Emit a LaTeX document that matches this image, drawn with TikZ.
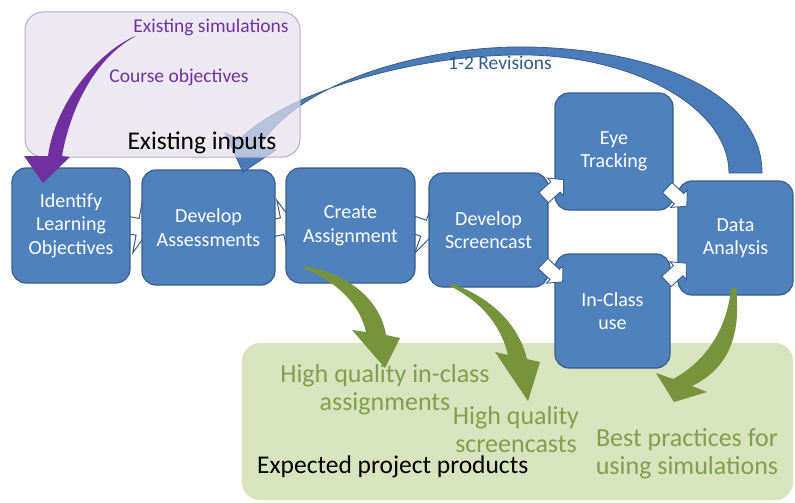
\documentclass[tikz,border=0pt]{standalone}
\usepackage{fontspec}
\setmainfont{Carlito}
\usetikzlibrary{shapes.arrows,calc}
\definecolor{boxfill}{HTML}{4F81BD}
\definecolor{boxedge}{HTML}{385D8A}
\definecolor{arcfill}{HTML}{4A7CB9}
\definecolor{greenbg}{HTML}{D7E4BD}
\definecolor{greenar}{HTML}{77933C}
\definecolor{greentx}{HTML}{839E4C}
\definecolor{purp}{HTML}{7030A0}
\definecolor{purpbg}{HTML}{E6E0EC}
\definecolor{purpedge}{HTML}{B8AACB}
\definecolor{revtx}{HTML}{2E5C8A}
\pgfdeclarelayer{behind}
\pgfsetlayers{behind,main}
\tikzset{
  procbox/.style={draw=boxedge, line width=1.2pt, fill=boxfill, rounded corners=14pt,
    text=white, align=center, font=\fontsize{20}{23.5}\selectfont, inner sep=0pt},
  blockarrow/.style={single arrow, draw=boxedge, fill=white, line width=1pt,
    inner xsep=0pt, inner ysep=8pt, single arrow head extend=18pt,
    single arrow tip angle=130, minimum height=24pt},
  diagarrow/.style={single arrow, draw=boxedge, fill=white, line width=0.9pt,
    inner xsep=0pt, inner ysep=6.5pt, single arrow head extend=5pt,
    single arrow tip angle=95, minimum height=27pt},
  greentext/.style={text=greentx, align=center, font=\fontsize{26}{27.5}\selectfont, inner sep=0pt},
  purptext/.style={text=purp, font=\fontsize{19.5}{23}\selectfont, inner sep=0pt},
  blacktext/.style={text=black, font=\fontsize{25.5}{30}\selectfont, inner sep=0pt},
  revtext/.style={text=revtx, font=\fontsize{19.5}{23}\selectfont, inner sep=0pt}
}
\begin{document}
\begin{tikzpicture}[x=1pt,y=-1pt]
\useasboundingbox (0,0) rectangle (795,503);

% process boxes
\node[procbox, minimum width=118pt, minimum height=115pt] (b1) at (71,225.5) {Identify\\Learning\\Objectives};
\node[procbox, minimum width=133pt, minimum height=115pt] (b2) at (208.5,227.5) {Develop\\Assessments};
\node[procbox, minimum width=129pt, minimum height=115pt] (b3) at (350.5,225.5) {Create\\Assignment};
\node[procbox, minimum width=119pt, minimum height=114pt] (b4) at (488.5,230) {Develop\\Screencast};
\node[procbox, minimum width=118pt, minimum height=117pt] (b5) at (614,151.5) {Eye\\Tracking};
\node[procbox, minimum width=115pt, minimum height=114pt] (b6) at (612.5,311) {In-Class\\use};
\node[procbox, minimum width=115pt, minimum height=114pt] (b7) at (735.5,238) {Data\\Analysis};

\begin{pgfonlayer}{behind}
  \fill[greenbg, rounded corners=18pt] (242,343) rectangle (793,500);
  \path (b1.east) -- node[blockarrow, sloped] (a12) {} (b2.west);
  \path (b2.east) -- node[blockarrow, sloped] (a23) {} (b3.west);
  \path (b3.east) -- node[blockarrow, sloped] (a34) {} (b4.west);
\end{pgfonlayer}
\path (b4.center) -- node[diagarrow, sloped, rotate=10] (a45) {} (b5.center);
\path (b4.center) -- node[diagarrow, sloped, rotate=-10] (a46) {} (b6.center);
\path (b5.center) -- node[diagarrow, sloped, rotate=-8] (a57) {} (b7.center);
\path (b6.center) -- node[diagarrow, sloped, rotate=12] (a67) {} (b7.center);

% green curved arrows
\fill[greenar] (303,266) .. controls (345,272) and (380,298) .. (386,335) -- (400,338) -- (385,368) -- (352,330) -- (366,332) .. controls (360,305) and (338,282) .. (303,268) -- cycle;
\fill[greenar] (450,283) .. controls (488,296) and (518,322) .. (527,359) -- (540,362) -- (528,401) -- (495,352) -- (508,355) .. controls (500,322) and (478,300) .. (450,286) -- cycle;
\fill[greenar] (736,288) .. controls (742,340) and (725,370) .. (692,386) -- (707,392) -- (674,402) -- (656,373) -- (673,379) .. controls (705,362) and (727,330) .. (731,288) -- cycle;

% green texts
\node[greentext] (g1) at (385,389.5) {High quality in-class\\assignments};
\node[greentext] (g2) at (516,429.5) {High quality\\screencasts};
\node[greentext] (g3) at (687,453.5) {Best practices for\\using simulations};
\node[blacktext, anchor=west] (g4) at (257,467) {Expected project products};

% revisions arc
\draw[boxedge, fill=arcfill, line width=0.8pt] (260,146) .. controls (300,80) and (430,45) .. (530,47) .. controls (660,50) and (762,95) .. (762,173) -- (729,173) .. controls (729,110) and (640,58) .. (530,55) .. controls (420,53) and (290,90) .. (240,139) -- (225,133) -- (243,172) -- (276,150) -- cycle;
\node[revtext] (rev) at (500,63) {1-2 Revisions};

% existing inputs panel
\draw[draw=purpedge, fill=purpbg, fill opacity=0.7, rounded corners=18pt, line width=1pt] (25,12) rectangle (300,157);
\node[purptext] (p1) at (211,27) {Existing simulations};
\node[purptext] (p2) at (179,77) {Course objectives};
\node[blacktext] (p3) at (202,143) {Existing inputs};
\fill[purp] (136,36) .. controls (100,55) and (72,100) .. (62,156) -- (70,157) -- (43,183) -- (24,156) -- (48,156) .. controls (55,105) and (95,55) .. (133,37) -- cycle;
\end{tikzpicture}
\end{document}
